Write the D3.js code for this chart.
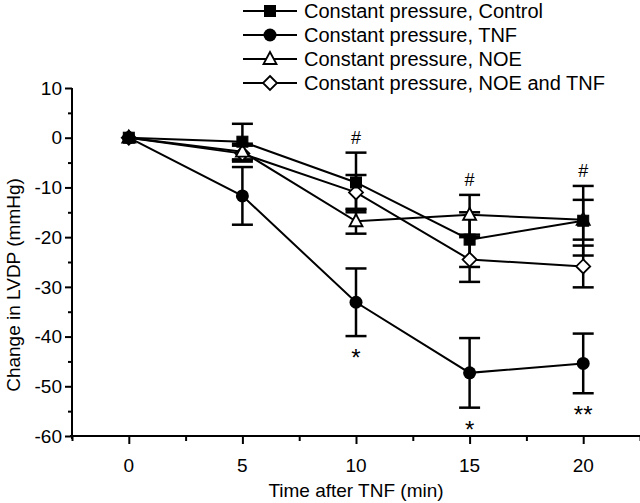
<!DOCTYPE html>
<html><head><meta charset="utf-8">
<script src="https://cdn.jsdelivr.net/npm/d3@7"></script>
<style>body{margin:0;background:#fff}svg{display:block}text{font-family:"Liberation Sans",Arial,sans-serif;fill:#000}</style>
</head><body><svg id="c" width="640" height="503"></svg>
<script>
const times = [0, 5, 10, 15, 20];
const seriesNames = ["Constant pressure, Control","Constant pressure, TNF","Constant pressure, NOE","Constant pressure, NOE and TNF"];
const controlMean = [0, -0.8, -9, -20.5, -16.7];
const controlSE   = [0, 3.6, 6, 5.5, 7];
const tnfMean = [0, -11.7, -33.1, -47.3, -45.4];
const tnfSE   = [0, 5.8, 6.8, 7, 6];
const noeMean = [0, -2.8, -16.8, -15.5, -16.5];
const noeSE   = [0, 1.6, 2.5, 4, 4];
const noeTnfMean = [0, -3.2, -11, -24.5, -25.9];
const noeTnfSE   = [0, 1.6, 3.5, 4.5, 4.2];
const yTicks = [10, 0, -10, -20, -30, -40, -50, -60];
const xTicks = [0, 5, 10, 15, 20];
const hashAt = [10, 15, 20];
const starAt = [[10, "*"], [15, "*"], [20, "**"]];

const svg = d3.select("#c");
const x = d3.scaleLinear().domain([-2.5, 22.5]).range([72, 640]);
const y = d3.scaleLinear().domain([-60, 10]).range([436, 88]);

// axes
const yAxisG = svg.append("g").attr("transform","translate(72,0)");
yAxisG.call(d3.axisLeft(y).tickValues(d3.range(-60, 10.1, 5)).tickSize(0).tickFormat(""));
yAxisG.select(".domain").remove();
yAxisG.append("line").attr("x1",0).attr("x2",0).attr("y1",y(10)).attr("y2",y(-60)+3).attr("stroke","#000").attr("stroke-width",2);
yAxisG.selectAll(".tick line").attr("x2", d => (d % 10 === 0 ? -7 : -4)).attr("stroke","#000").attr("stroke-width",2);
yTicks.forEach(v => {
  yAxisG.append("text").attr("x",-10).attr("y",y(v)).attr("dy","0.35em").attr("text-anchor","end").attr("font-size",19).text(v);
});

const xAxisG = svg.append("g").attr("transform","translate(0,436)");
xAxisG.call(d3.axisBottom(x).tickValues(d3.range(-2.5, 22.6, 2.5)).tickSize(0).tickFormat(""));
xAxisG.select(".domain").remove();
xAxisG.append("line").attr("x1",x(-2.5)-2).attr("x2",640).attr("y1",0).attr("y2",0).attr("stroke","#000").attr("stroke-width",2);
xAxisG.selectAll(".tick line").attr("y2", d => (d % 5 === 0 ? 8 : 5)).attr("stroke","#000").attr("stroke-width",2);
xTicks.forEach(v => {
  xAxisG.append("text").attr("x",x(v)).attr("y",36).attr("text-anchor","middle").attr("font-size",19).text(v);
});

svg.append("text").attr("x", 356).attr("y", 497).attr("text-anchor","middle").attr("font-size",19).text("Time after TNF (min)");
svg.append("text").attr("transform","translate(20,285) rotate(-90)").attr("text-anchor","middle").attr("font-size",19).text("Change in LVDP (mmHg)");

const series = [
  {name: seriesNames[0], mean: controlMean, se: controlSE, shape: "square", fill: "#000"},
  {name: seriesNames[1], mean: tnfMean, se: tnfSE, shape: "circle", fill: "#000"},
  {name: seriesNames[2], mean: noeMean, se: noeSE, shape: "triangle", fill: "#fff"},
  {name: seriesNames[3], mean: noeTnfMean, se: noeTnfSE, shape: "diamond", fill: "#fff"}
];

const line = d3.line().x(d => x(d[0])).y(d => y(d[1]));
series.forEach(s => {
  svg.append("path").datum(times.map((t,i)=>[t, s.mean[i]])).attr("d", line)
    .attr("fill","none").attr("stroke","#000").attr("stroke-width",2);
});

// error bars
series.forEach(s => {
  times.forEach((t,i) => {
    if (s.se[i] <= 0) return;
    const cx = x(t), top = y(s.mean[i] + s.se[i]), bot = y(s.mean[i] - s.se[i]);
    svg.append("line").attr("x1",cx).attr("x2",cx).attr("y1",top).attr("y2",bot).attr("stroke","#000").attr("stroke-width",2.5);
    [top, bot].forEach(yy => svg.append("line").attr("x1",cx-10.5).attr("x2",cx+10.5).attr("y1",yy).attr("y2",yy).attr("stroke","#000").attr("stroke-width",2.5));
  });
});

function marker(g, shape, fill, cx, cy) {
  if (shape === "square") {
    g.append("rect").attr("x",cx-5.5).attr("y",cy-5.5).attr("width",11).attr("height",11).attr("fill",fill).attr("stroke","#000").attr("stroke-width",1);
  } else if (shape === "circle") {
    g.append("circle").attr("cx",cx).attr("cy",cy).attr("r",6.5).attr("fill",fill);
  } else if (shape === "triangle") {
    g.append("path").attr("d",`M${cx},${cy-7}L${cx+6.5},${cy+5}L${cx-6.5},${cy+5}Z`).attr("fill",fill).attr("stroke","#000").attr("stroke-width",1.8);
  } else {
    g.append("path").attr("d",`M${cx},${cy-7}L${cx+7},${cy}L${cx},${cy+7}L${cx-7},${cy}Z`).attr("fill",fill).attr("stroke","#000").attr("stroke-width",1.8);
  }
}
[3,2,1,0].forEach(k => {
  const s = series[k];
  times.forEach((t,i) => marker(svg, s.shape, s.fill, x(t), y(s.mean[i])));
});

// annotations
hashAt.forEach(t => {
  const ctl = controlMean[times.indexOf(t)] + controlSE[times.indexOf(t)];
  const noe = noeMean[times.indexOf(t)] + noeSE[times.indexOf(t)];
  const top = Math.max(ctl, noe);
  svg.append("text").attr("x",x(t)).attr("y",y(top)-9).attr("text-anchor","middle").attr("font-size",18).text("#");
});
starAt.forEach(([t, s]) => {
  const i = times.indexOf(t);
  svg.append("text").attr("x",x(t)).attr("y",y(tnfMean[i]-tnfSE[i])+30).attr("text-anchor","middle").attr("font-size",24).text(s);
});

// legend
const lg = svg.append("g");
series.forEach((s,k) => {
  const ly = 11 + k*24;
  lg.append("line").attr("x1",243).attr("x2",297).attr("y1",ly).attr("y2",ly).attr("stroke","#000").attr("stroke-width",2);
  marker(lg, s.shape, s.fill, 270, ly);
  lg.append("text").attr("x",304).attr("y",ly).attr("dy","0.35em").attr("font-size",20).text(s.name);
});
</script></body></html>
